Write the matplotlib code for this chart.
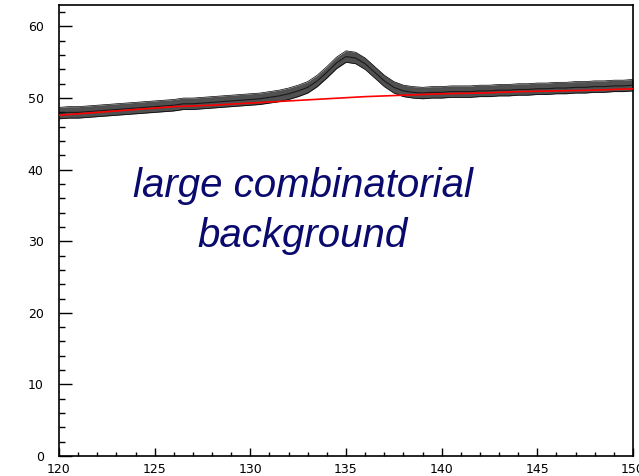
import numpy as np
import matplotlib
matplotlib.use('Agg')
import matplotlib.pyplot as plt
from matplotlib.ticker import MultipleLocator

#----------------data---------------------------------------------------------
mass = [120.0, 120.5, 121.0, 121.5, 122.0, 122.5, 123.0, 123.5, 124.0, 124.5,
        125.0, 125.5, 126.0, 126.5, 127.0, 127.5, 128.0, 128.5, 129.0, 129.5,
        130.0, 130.5, 131.0, 131.5, 132.0, 132.5, 133.0, 133.5, 134.0, 134.5,
        135.0, 135.5, 136.0, 136.5, 137.0, 137.5, 138.0, 138.5, 139.0, 139.5,
        140.0, 140.5, 141.0, 141.5, 142.0, 142.5, 143.0, 143.5, 144.0, 144.5,
        145.0, 145.5, 146.0, 146.5, 147.0, 147.5, 148.0, 148.5, 149.0, 149.5,
        150.0]
counts = [47.9, 48.0, 48.0, 48.1, 48.2, 48.3, 48.4, 48.5, 48.6, 48.7,
          48.8, 48.9, 49.0, 49.2, 49.2, 49.3, 49.4, 49.5, 49.6, 49.7,
          49.8, 49.9, 50.1, 50.3, 50.6, 51.0, 51.5, 52.4, 53.6, 54.9,
          55.8, 55.6, 54.8, 53.6, 52.4, 51.5, 51.0, 50.8, 50.7, 50.8,
          50.8, 50.9, 50.9, 50.9, 51.0, 51.0, 51.1, 51.1, 51.2, 51.2,
          51.3, 51.3, 51.4, 51.4, 51.5, 51.5, 51.6, 51.6, 51.7, 51.7,
          51.8]
# half width of the noisy band
spread = [0.8] * len(mass)

bkg_mass = [120, 122, 124, 126, 128, 130, 132, 134, 136, 138, 140, 142, 144, 146, 148, 150]
bkg_val = [47.6, 48.0, 48.4, 48.8, 49.0, 49.3, 49.6, 49.9, 50.2, 50.4, 50.6, 50.7, 50.9, 51.0, 51.1, 51.3]

label_txt = 'large combinatorial\nbackground'

#---------------plot----------------------------------------------------------
plt.rcParams['font.family'] = ['Liberation Sans', 'DejaVu Sans']

fig = plt.figure(figsize=(6.39, 4.76), dpi=100)
ax = fig.add_axes([59/639, 20/476, (633-59)/639, (456-5)/476])

c = np.array(counts)
s = np.array(spread)
ax.fill_between(mass, c - s, c + s, color='#505050', lw=0)
ax.plot(mass, c + s, color='black', lw=0.5)
ax.plot(mass, c - s, color='black', lw=0.5)
ax.plot(mass, c, color='#1a1a1a', lw=0.8)
ax.plot(bkg_mass, bkg_val, color='red', lw=1.2, zorder=5)

ax.text(132.75, 34.2, label_txt, ha='center', va='center',
        fontsize=29, style='italic', color='#0a0a6e', linespacing=1.4)

ax.set_xlim(120, 150)
ax.set_ylim(0, 63)
ax.xaxis.set_major_locator(MultipleLocator(5))
ax.xaxis.set_minor_locator(MultipleLocator(1))
ax.yaxis.set_major_locator(MultipleLocator(10))
ax.yaxis.set_minor_locator(MultipleLocator(2))
ax.tick_params(which='both', direction='in', top=False, right=False)
ax.tick_params(axis='x', which='major', length=6, width=1, pad=5)
ax.tick_params(axis='x', which='minor', length=3, width=1)
ax.tick_params(axis='y', which='major', length=9, width=1, pad=11)
ax.tick_params(axis='y', which='minor', length=4.5, width=1)
for lab in ax.get_xticklabels() + ax.get_yticklabels():
    lab.set_fontfamily('DejaVu Sans')
    lab.set_fontsize(9)
for sp in ax.spines.values():
    sp.set_linewidth(1.2)

plt.savefig('out.png', dpi=100)
